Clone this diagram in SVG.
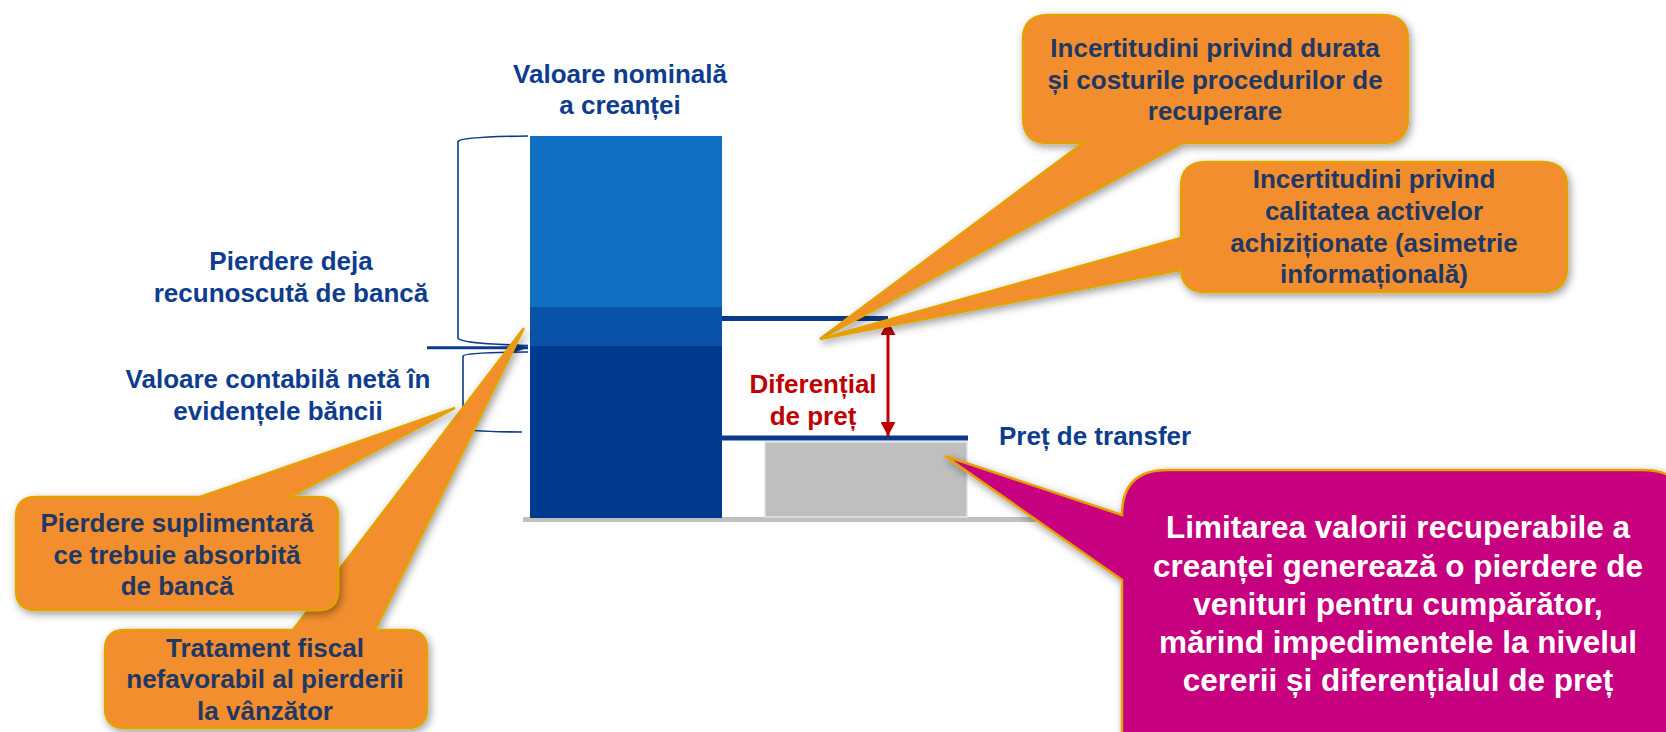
<svg xmlns="http://www.w3.org/2000/svg" width="1666" height="732" viewBox="0 0 1666 732">
<defs>
<style>
text{font-family:"Liberation Sans",Arial,sans-serif;font-weight:bold;text-anchor:middle}
.lbl{font-size:26px;fill:#0E3C8E}
.red{font-size:26px;fill:#C00000}
.co{font-size:26px;fill:#1F3864}
.wht{font-size:31.5px;fill:#FFFFFF}
.orange{fill:#F28E2F;stroke:#E5A100;stroke-width:2.5;stroke-linejoin:miter}
.mag{fill:#C6007E;stroke:#E5A100;stroke-width:2.5}
.brk{fill:none;stroke:#0B3A8C;stroke-width:1.6}
.hl{stroke:#0B3A8C;stroke-width:5}
</style>
<filter id="sh" x="-10%" y="-10%" width="125%" height="130%">
<feGaussianBlur in="SourceAlpha" stdDeviation="4"/>
<feOffset dx="2" dy="3" result="b"/>
<feComponentTransfer><feFuncA type="linear" slope="0.4"/></feComponentTransfer>
<feMerge><feMergeNode/><feMergeNode in="SourceGraphic"/></feMerge>
</filter>
<marker id="ab" viewBox="0 0 15 10" refX="15" refY="5" markerWidth="15" markerHeight="10" markerUnits="userSpaceOnUse" orient="auto">
<path d="M0,0 L15,5 L0,10 Z" fill="#0B3A8C"/>
</marker>
<marker id="ar" viewBox="0 0 14 15" refX="14" refY="7.5" markerWidth="14" markerHeight="15" markerUnits="userSpaceOnUse" orient="auto-start-reverse">
<path d="M0,0 L14,7.5 L0,15 Z" fill="#C00000"/>
</marker>
</defs>
<rect width="1666" height="732" fill="#FFFFFF"/>

<g id="chart">
<rect x="523" y="517" width="620" height="5" fill="#C0C0C0"/>
<rect x="530" y="136" width="192" height="171" fill="#1170C4"/>
<rect x="530" y="307" width="192" height="39" fill="#0A52A8"/>
<rect x="530" y="346" width="192" height="172" fill="#003A8F"/>
<rect x="765" y="442" width="202" height="75" fill="#BFBFBF" stroke="#DCE3EC" stroke-width="1.5"/>
</g>

<g id="connectors">
<line class="hl" x1="722" y1="318.5" x2="888" y2="318.5"/>
<line class="hl" x1="722" y1="438" x2="968" y2="438"/>
<path class="brk" d="M528,136 C490,136.5 460,138 458,141.5 L458,338 C460,343 495,344.5 528,345.5"/>
<path class="brk" d="M528,352 C495,352.3 464,353 463,356 L463,428 C464,431 495,431.8 522,432"/>
<line x1="427" y1="347.7" x2="528" y2="347.7" stroke="#0B3A8C" stroke-width="3" marker-end="url(#ab)"/>
<line x1="888" y1="321" x2="888" y2="436" stroke="#C00000" stroke-width="3" marker-start="url(#ar)" marker-end="url(#ar)"/>
</g>

<g id="label-nominal">
<text class="lbl" x="620" y="83">Valoare nominală</text>
<text class="lbl" x="620" y="114">a creanței</text>
</g>
<g id="label-pierdere-deja">
<text class="lbl" x="291" y="270">Pierdere deja</text>
<text class="lbl" x="291" y="302">recunoscută de bancă</text>
</g>
<g id="label-valoare-contabila">
<text class="lbl" x="278" y="388">Valoare contabilă netă în</text>
<text class="lbl" x="278" y="420">evidențele băncii</text>
</g>
<g id="label-diferential">
<text class="red" x="813" y="393">Diferențial</text>
<text class="red" x="813" y="425">de preț</text>
</g>
<g id="label-pret-transfer">
<text class="lbl" x="999" y="445" style="text-anchor:start">Preț de transfer</text>
</g>

<g id="callout-tratament">
<path class="orange" filter="url(#sh)" d="M125,630 L293,630 L524,328 L375,630 L407,630 Q427,630 427,650 L427,708 Q427,728 407,728 L125,728 Q105,728 105,708 L105,650 Q105,630 125,630 Z"/>
<text class="co" x="265" y="657">Tratament fiscal</text>
<text class="co" x="265" y="688">nefavorabil al pierderii</text>
<text class="co" x="265" y="720">la vânzător</text>
</g>

<g id="callout-pierdere-suplimentara">
<path class="orange" filter="url(#sh)" d="M36,497 L200,497 L455,408 L290,497 L318,497 Q338,497 338,517 L338,590 Q338,610 318,610 L36,610 Q16,610 16,590 L16,517 Q16,497 36,497 Z"/>
<text class="co" x="177" y="532">Pierdere suplimentară</text>
<text class="co" x="177" y="563.5">ce trebuie absorbită</text>
<text class="co" x="177" y="595">de bancă</text>
</g>

<g id="callout-durata">
<path class="orange" filter="url(#sh)" d="M1048,15 L1383,15 Q1408,15 1408,40 L1408,118 Q1408,143 1383,143 L1183,143 L820,339 L1083,143 L1048,143 Q1023,143 1023,118 L1023,40 Q1023,15 1048,15 Z"/>
<text class="co" x="1215" y="57">Incertitudini privind durata</text>
<text class="co" x="1215" y="88.5">și costurile procedurilor de</text>
<text class="co" x="1215" y="120">recuperare</text>
</g>

<g id="callout-calitate">
<path class="orange" filter="url(#sh)" d="M1206,162 L1542,162 Q1567,162 1567,187 L1567,267 Q1567,292 1542,292 L1206,292 Q1181,292 1181,267 L1181,270 L820,339 L1181,238 L1181,187 Q1181,162 1206,162 Z"/>
<text class="co" x="1374" y="188">Incertitudini privind</text>
<text class="co" x="1374" y="220">calitatea activelor</text>
<text class="co" x="1374" y="252">achiziționate (asimetrie</text>
<text class="co" x="1374" y="283">informațională)</text>
</g>

<g id="callout-limitare">
<path class="mag" filter="url(#sh)" d="M1167,470 L1643,470 Q1688,470 1688,515 L1688,770 L1122,770 L1122,580 L945,456 L1122,515 Q1122,470 1167,470 Z"/>
<text class="wht" x="1398" y="538">Limitarea valorii recuperabile a</text>
<text class="wht" x="1398" y="577">creanței generează o pierdere de</text>
<text class="wht" x="1398" y="615">venituri pentru cumpărător,</text>
<text class="wht" x="1398" y="653">mărind impedimentele la nivelul</text>
<text class="wht" x="1398" y="691">cererii și diferențialul de preț</text>
</g>
</svg>
